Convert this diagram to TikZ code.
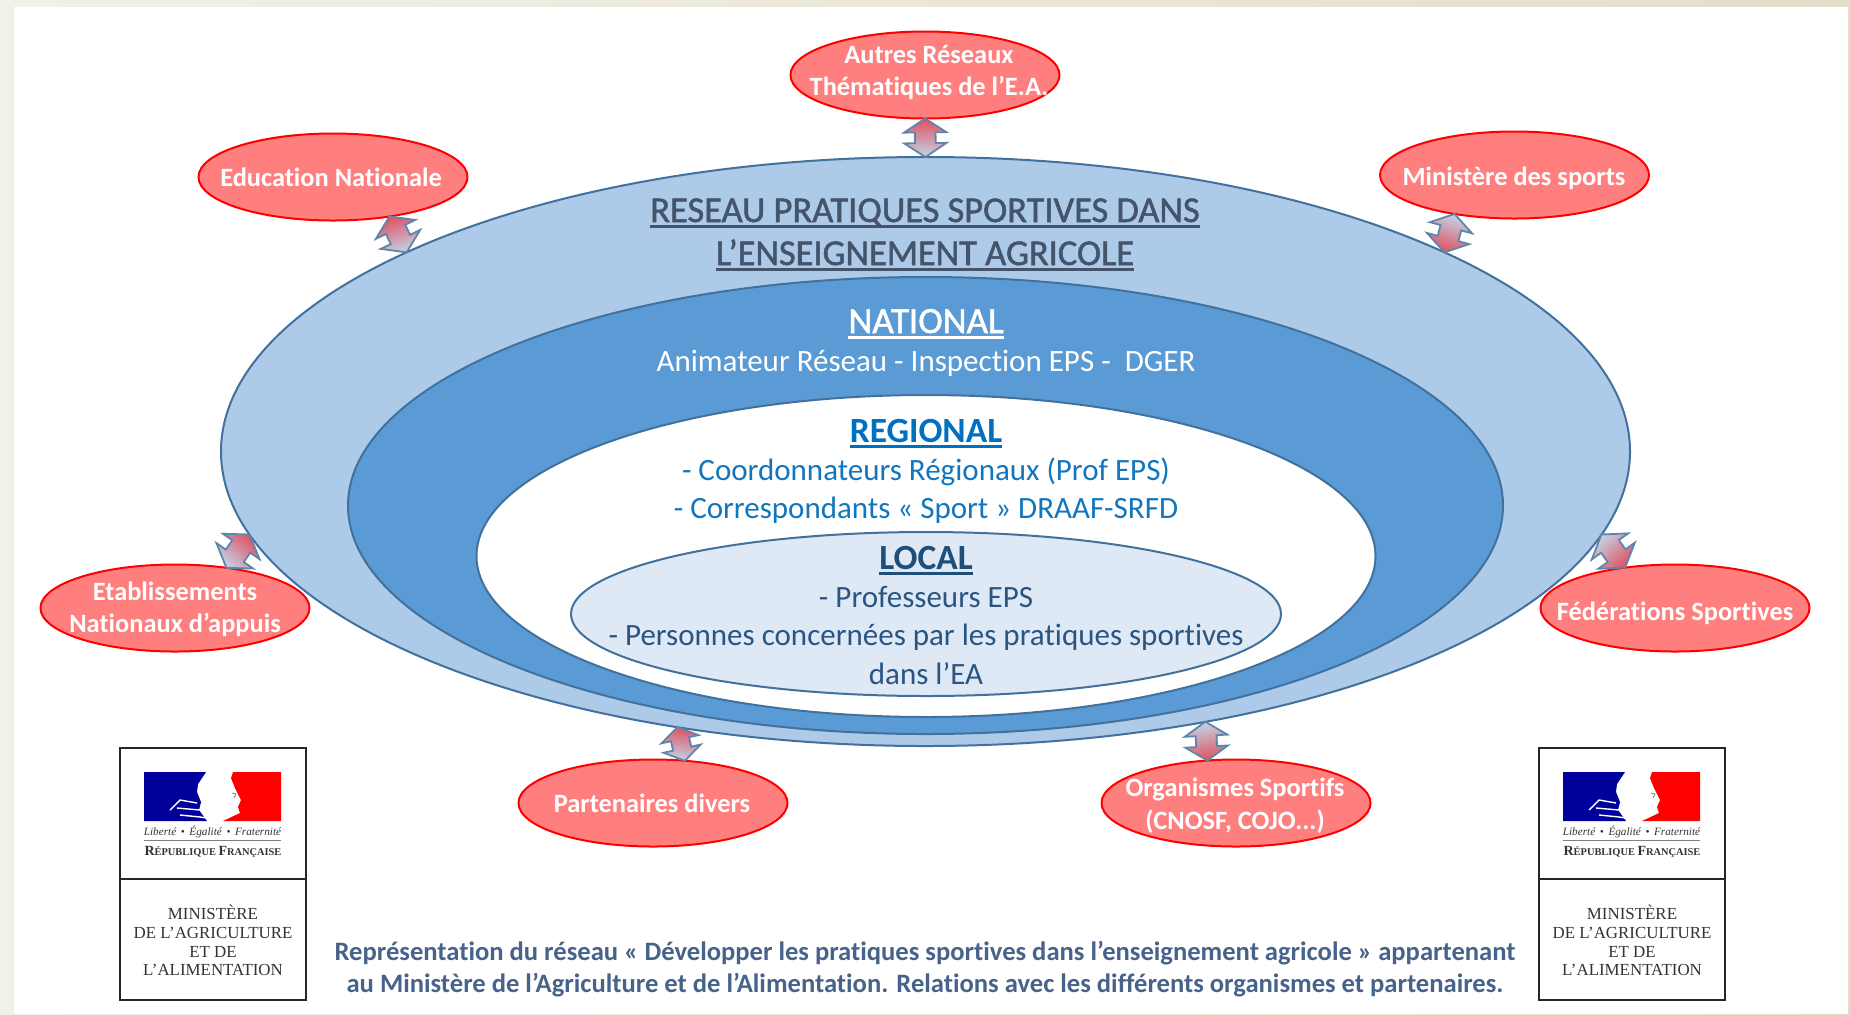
\documentclass[tikz,border=0pt]{standalone}
\usepackage{fontspec}
\setmainfont[Ligatures=NoCommon]{Carlito}
\newfontfamily\semibold[Ligatures=NoCommon,FakeBold=1.4]{Carlito}
\newfontfamily\logofont{Liberation Serif}
\usetikzlibrary{shapes.geometric,calc}
\definecolor{frameA}{HTML}{F2F1E9}
\definecolor{frameB}{HTML}{E3DEC8}
\definecolor{outerfill}{HTML}{ADCBE9}
\definecolor{midfill}{HTML}{5B9BD5}
\definecolor{localfill}{HTML}{DEE9F5}
\definecolor{ringline}{HTML}{41719C}
\definecolor{redfill}{HTML}{FF7F7F}
\definecolor{titlecol}{HTML}{44546A}
\definecolor{regcol}{HTML}{0070C0}
\definecolor{regtext}{HTML}{1276BE}
\definecolor{loccol}{HTML}{1F4E79}
\definecolor{loctext}{HTML}{2A5582}
\definecolor{captioncol}{HTML}{47638A}
\definecolor{flagblue}{HTML}{00009B}
\definecolor{logotext}{HTML}{333333}
\definecolor{arrowred}{HTML}{E0505F}
\definecolor{arrowpale}{HTML}{C3D5E9}
\newcommand\ulx[1]{\setbox0\hbox{#1}\rlap{\rule[-2.9pt]{\wd0}{1.3pt}}\box0}
\newcommand\szf[1]{\fontsize{#1}{#1}\selectfont}
\tikzset{
  x=0.5pt,y=-0.5pt,
  ring/.style={ellipse,draw=ringline,line width=1pt,inner sep=0pt,outer sep=0pt},
  partner/.style={ellipse,draw=red,fill=redfill,line width=1pt,inner sep=0pt,outer sep=0pt,minimum width=134.5pt,minimum height=43.5pt},
  txt/.style={anchor=base,inner sep=0pt,outer sep=0pt},
  partnertxt/.style={txt,text=white,font=\szf{13.2}\bfseries},
  titletxt/.style={txt,text=titlecol,font=\semibold\szf{18.2}},
  nattxt/.style={txt,text=white,font=\szf{15.5}},
  regtxt/.style={txt,text=regtext,font=\szf{15.5}},
  loctxt/.style={txt,text=loctext,font=\szf{15.5}},
  captiontxt/.style={txt,text=captioncol,font=\szf{13.3}\bfseries},
  linkarrow/.style={draw=ringline!85!white,line width=0.9pt,line join=miter,top color=arrowred,bottom color=arrowpale},
  logotxt/.style={txt,text=logotext,font=\logofont\szf{8.45}},
  logobox/.style={draw=black!85,line width=1.4pt,fill=white,inner sep=0pt,outer sep=0pt}
}
% double block arrow between two named points; #1 red end, #2 other end, #3 shading angle
\newcommand\linkbetween[3]{%
  \path[linkarrow,shading angle=#3]
   (#1) -- ($(#1)!.36!(#2)!.859!90:(#2)$) -- ($(#1)!.36!(#2)!.42!90:(#2)$)
   -- ($(#1)!.64!(#2)!.75!90:(#2)$) -- ($(#1)!.64!(#2)!1.528!90:(#2)$) -- (#2)
   -- ($(#1)!.64!(#2)!1.528!-90:(#2)$) -- ($(#1)!.64!(#2)!.75!-90:(#2)$)
   -- ($(#1)!.36!(#2)!.42!-90:(#2)$) -- ($(#1)!.36!(#2)!.859!-90:(#2)$) -- cycle;}
% ministry logo; #1 name prefix, #2 horizontal offset
\newcommand\ministrylogo[2]{%
 \begin{scope}[shift={(#2,0)}]
  \draw[logobox] (120,748) rectangle (306,1000);
  \draw[logobox] (120,879) -- (306,879);
  \fill[flagblue] (144,772) -- (206,772) -- (198,784) -- (197,792) -- (201,802) -- (199,810) -- (207,821) -- (144,821) -- cycle;
  \fill[red] (233,772) -- (281,772) -- (281,821) -- (223,821) -- (240,813) -- (238,807) -- (241,800) -- (235,788) -- (231,778) -- cycle;
  \draw[white,line width=0.7pt] (170,810) -- (180,800) -- (197,803) (177,808) -- (200,810) (180,815) -- (200,817) -- (207,818);
  \draw[gray,line width=0.4pt] (232,793) -- (236,794) -- (234,798);
  \node[txt,font=\logofont\itshape\szf{5.6},text=logotext] (#1dev) at (212.5,835) {Liberté\, • \,Égalité\, • \,Fraternité};
  \draw[gray,line width=0.4pt] (144,840) -- (281,840);
  \node[txt,font=\logofont\bfseries\szf{5.2},text=logotext] (#1rep) at (213,855) {{\szf{7}R}ÉPUBLIQUE {\szf{7}F}RANÇAISE};
  \node[logotxt] (#1a) at (213,919) {MINISTÈRE};
  \node[logotxt] (#1b) at (213,938) {DE L’AGRICULTURE};
  \node[logotxt] (#1c) at (213,957) {ET DE};
  \node[logotxt] (#1d) at (213,975) {L’ALIMENTATION};
 \end{scope}}
\begin{document}
\begin{tikzpicture}
\useasboundingbox (0,0) rectangle (1850,1014);
\shade[left color=frameA,right color=frameB] (0,0) rectangle (1850,1014);
\fill[white] (14,7) rectangle (1848,1014);
% rings
\node[ring,fill=outerfill,minimum width=704.5pt,minimum height=294.5pt] (outer) at (925.5,451.5) {};
\node[ring,fill=midfill,minimum width=577.5pt,minimum height=228.5pt] (middle) at (925.5,505.5) {};
\node[ring,fill=white,minimum width=449.5pt,minimum height=161pt] (regional) at (926,556) {};
\node[ring,fill=localfill,minimum width=355pt,minimum height=82pt] (local) at (926,614) {};
% partners
\node[partner] (autres) at (925,75) {};
\node[partner] (edu) at (333,177) {};
\node[partner] (min) at (1514.5,175) {};
\node[partner] (etab) at (175,608) {};
\node[partner] (fed) at (1675,608) {};
\node[partner] (part) at (653,803) {};
\node[partner] (org) at (1236,803) {};
% links
\linkbetween{autres.south}{outer.north}{0}
\linkbetween{edu.-35.7}{outer.159.2}{19}
\linkbetween{min.213}{outer.21.3}{162}
\linkbetween{outer.187.3}{etab.38.3}{-41}
\linkbetween{fed.141.7}{outer.-7.5}{-137}
\linkbetween{outer.228.2}{part.53}{-8}
\linkbetween{org.124.6}{outer.-44.7}{-172}
% partner texts
\node[partnertxt] (t1) at (929,63) {Autres Réseaux};
\node[partnertxt] (t2) at (929,95) {Thématiques de l’E.A.};
\node[partnertxt] (t3) at (331,186) {Education Nationale};
\node[partnertxt] (t4) at (1514,185) {Ministère des sports};
\node[partnertxt] (t5) at (175,600) {Etablissements};
\node[partnertxt] (t6) at (175,632) {Nationaux d’appuis};
\node[partnertxt] (t7) at (1675,620) {Fédérations Sportives};
\node[partnertxt] (t8) at (652,812) {Partenaires divers};
\node[partnertxt] (t9) at (1235,796) {Organismes Sportifs};
\node[partnertxt] (t10) at (1235,829) {(CNOSF, COJO...)};
% ring texts
\node[titletxt] (h1) at (925,222) {\ulx{RESEAU PRATIQUES SPORTIVES DANS}};
\node[titletxt] (h2) at (925,265) {\ulx{L’ENSEIGNEMENT AGRICOLE}};
\node[txt,text=white,font=\semibold\szf{18.5}] (n0) at (926,333) {\ulx{NATIONAL}};
\node[nattxt] (n1) at (926,371) {Animateur Réseau - Inspection EPS -\ \ DGER};
\node[txt,text=regcol,font=\szf{17.7}\bfseries] (r0) at (926,442) {\ulx{REGIONAL}};
\node[regtxt] (r1) at (926,480) {- Coordonnateurs Régionaux (Prof EPS)};
\node[regtxt] (r2) at (926,518) {- Correspondants « Sport » DRAAF-SRFD};
\node[txt,text=loccol,font=\szf{17.7}\bfseries] (l0) at (926,569) {\ulx{LOCAL}};
\node[loctxt] (l1) at (926,607) {- Professeurs EPS};
\node[loctxt] (l2) at (926,645) {- Personnes concernées par les pratiques sportives};
\node[loctxt] (l3) at (926,684) {dans l’EA};
% caption
\node[captiontxt] (c1) at (925,960) {Représentation du réseau « Développer les pratiques sportives dans l’enseignement agricole » appartenant};
\node[captiontxt] (c2) at (925,992) {au Ministère de l’Agriculture et de l’Alimentation. Relations avec les différents organismes et partenaires.};
% logos
\ministrylogo{la}{0}
\ministrylogo{lb}{1419}
\end{tikzpicture}
\end{document}
